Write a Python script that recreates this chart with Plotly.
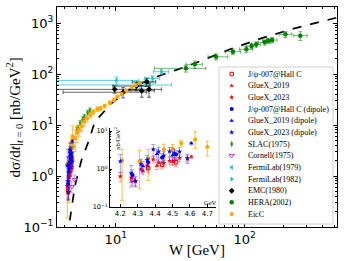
import math
import plotly.graph_objects as go

# ---------------- data ----------------
curve_W = [4.25, 4.32, 4.81, 5.42, 6.21, 6.87, 9.26, 12.5, 16.8, 22.6, 30.4, 40.9, 74.3, 134, 244, 520]
curve_sig = [0.06, 0.1, 0.62, 2.06, 5.08, 11.5, 26.6, 48.6, 70.6, 95.6, 123, 162, 295, 500, 787, 1280]

hallc_W = [4.27, 4.36, 4.44, 4.52]
hallc_sig = [0.52, 1.05, 1.30, 1.50]
hallc_err = [0.15, 0.25, 0.30, 0.35]
hallc_dip_sig = [0.70, 1.50, 2.00, 2.40]
hallc_dip_err = [0.25, 0.45, 0.55, 0.65]

gx19_W = [4.33, 4.41, 4.50, 4.608]
gx19_sig = [0.90, 1.22, 1.55, 2.10]
gx19_err = [0.20, 0.25, 0.30, 0.20]
gx19_dip_sig = [1.20, 2.50, 2.30, 4.75]
gx19_dip_err = [0.40, 0.80, 0.60, 0.45]

gx23_W = [4.20, 4.262, 4.287, 4.319, 4.354, 4.389, 4.42, 4.45, 4.483, 4.51, 4.54, 4.585]
gx23_sig = [0.64, 0.59, 0.47, 1.00, 1.22, 1.80, 1.50, 1.45, 1.65, 1.65, 1.95, 1.90]
gx23_err = [0.18, 0.15, 0.12, 0.22, 0.25, 0.35, 0.30, 0.30, 0.35, 0.35, 0.40, 0.35]
gx23_dip_sig = [1.60, 0.785, 0.49, 1.35, 1.73, 3.30, 2.85, 2.24, 2.90, 2.64, 2.85, 1.90]
gx23_dip_err = [0.80, 0.45, 0.15, 0.45, 0.55, 1.10, 0.90, 0.60, 0.80, 0.70, 0.80, 0.50]

eic_W = [4.21, 4.31, 4.36, 4.45, 4.50, 4.55, 4.63, 4.70, 4.85, 5.0, 5.2, 5.45, 5.7, 6.0,
         6.35, 6.7, 7.2, 7.6, 8.2, 9.0, 9.7, 10.3, 11.1, 12.1, 13.3, 14.3, 15.4]
eic_sig = [1.7, 1.6, 1.9, 3.3, 3.4, 4.8, 6.0, 3.8, 5.5, 7.0, 8.0, 9.5, 11.5, 13.5,
           15.7, 18.0, 20.5, 21.0, 23.6, 27.4, 31.0, 36.0, 40.5, 47.0, 55.0, 61.0, 67.6]
eic_errp = [1.6, 1.5, 1.4, 1.2, 1.0, 0.8, 3.5, 1.6, 2.5, 2.5, 2.0, 2.0, 2.0, 2.0,
            2.0, 2.0, 2.0, 2.0, 2.0, 2.0, 2.5, 2.5, 2.5, 3.0, 3.0, 3.0, 3.0]
eic_errm = [1.55, 1.3, 1.4, 1.4, 1.3, 0.8, 2.5, 1.6, 2.5, 2.5, 2.0, 2.0, 2.0, 2.0,
            2.0, 2.0, 2.0, 2.0, 2.0, 2.0, 2.5, 2.5, 2.5, 3.0, 3.0, 3.0, 3.0]

slac_W = [5.0, 5.1, 5.3, 5.55, 5.7, 6.05, 6.3]
slac_sig = [8.0, 8.8, 11.0, 13.0, 14.5, 17.5, 19.5]
slac_err = [0.9, 1.0, 1.2, 1.4, 1.5, 1.8, 2.0]

cornell_W = [4.55, 4.80]
cornell_sig = [0.62, 0.85]
cornell_err = [0.15, 0.20]

fl79_W = [10.1, 15.4]
fl79_sig = [75.0, 61.0]
fl79_err = [12.0, 10.0]
fl79_xm = [7.0, 12.0]
fl79_xp = [5.0, 11.6]

fl82_W = [17.0, 19.3, 22.6]
fl82_sig = [68.0, 82.0, 111.0]
fl82_err = [10.0, 10.0, 12.0]
fl82_xm = [2.5, 2.5, 3.0]
fl82_xp = [2.5, 2.5, 3.0]

emc_W = [9.8, 11.4, 14.5, 15.9, 17.4, 18.1]
emc_sig = [50.0, 44.0, 58.0, 47.0, 70.0, 50.0]
emc_err = [8.0, 10.0, 10.0, 12.0, 13.0, 15.0]
emc_xm = [6.5, 7.5, 5.0, 4.0, 4.0, 5.0]
emc_xp = [4.5, 6.0, 4.0, 4.0, 3.0, 4.5]

hera_W = [35, 41, 60, 81, 103, 113, 123, 143, 152, 163, 207, 270]
hera_sig = [129, 155, 218, 274, 305, 354, 382, 418, 450, 464, 600, 565]
hera_err = [20, 25, 30, 35, 40, 40, 45, 50, 50, 55, 80, 110]
hera_xm = [15, 6, 8, 10, 12, 10, 10, 15, 15, 15, 20, 30]
hera_xp = [15, 6, 14, 12, 12, 10, 10, 15, 15, 15, 25, 35]

legend_names = ["J/ψ-007@Hall C", "GlueX_2019", "GlueX_2023",
                "J/ψ-007@Hall C (dipole)", "GlueX_2019 (dipole)", "GlueX_2023 (dipole)",
                "SLAC(1975)", "Cornell(1975)", "FermiLab(1979)", "FermiLab(1982)",
                "EMC(1980)", "HERA(2002)", "EicC"]

main_x_ticks = [10, 100]
main_y_ticks = [0.1, 1, 10, 100, 1000]
inset_x_ticks = [4.2, 4.3, 4.4, 4.5, 4.6, 4.7]
inset_y_ticks = [0.1, 1, 10]


def pow_label(v):
    e = int(round(math.log10(v)))
    return "10<sup>%s</sup>" % (("−%d" % -e) if e < 0 else "%d" % e)


def log_minor(e0, e1):
    return [m * 10.0 ** e for e in range(e0, e1 + 1) for m in range(2, 10)]


# ---------------- styles ----------------
RED, BLUE = "#ff0000", "#0000ff"
STY = {
    "J/ψ-007@Hall C": dict(c=RED, s="square-open", e="rgba(255,0,0,0.35)", z=3.5),
    "GlueX_2019": dict(c=RED, s="triangle-up", e="rgba(255,0,0,0.35)", z=4),
    "GlueX_2023": dict(c=RED, s="star", e="rgba(255,0,0,0.35)", z=4),
    "J/ψ-007@Hall C (dipole)": dict(c=BLUE, s="circle", e="rgba(0,0,255,0.35)", z=4),
    "GlueX_2019 (dipole)": dict(c=BLUE, s="triangle-up", e="rgba(0,0,255,0.35)", z=4),
    "GlueX_2023 (dipole)": dict(c=BLUE, s="star", e="rgba(0,0,255,0.35)", z=4),
    "SLAC(1975)": dict(c="#2e9b2e", s="diamond-tall", e="rgba(46,155,46,0.55)", z=4.5),
    "Cornell(1975)": dict(c="#c040c0", s="triangle-down-open", e="rgba(192,64,192,0.5)", z=4.5),
    "FermiLab(1979)": dict(c="#17becf", s="triangle-left", e="rgba(23,190,207,0.7)", z=4.5),
    "FermiLab(1982)": dict(c="#17becf", s="triangle-right", e="rgba(23,190,207,0.7)", z=4.5),
    "EMC(1980)": dict(c="#000000", s="diamond", e="rgba(0,0,0,0.6)", z=4.5),
    "HERA(2002)": dict(c="#008000", s="circle", e="rgba(0,128,0,0.55)", z=4.5),
    "EicC": dict(c="#ffa500", s="hexagon", e="rgba(255,165,0,0.7)", z=4.5),
}

fig = go.Figure()


def add(name, W, sig, ep, em=None, xm=None, xp=None, xa="x", ya="y"):
    st = STY[name]
    ey = dict(type="data", symmetric=False, array=ep,
              arrayminus=em if em is not None else ep,
              color=st["e"], thickness=1, width=2)
    kw = {}
    if xm is not None:
        kw["error_x"] = dict(type="data", symmetric=False, array=xp, arrayminus=xm,
                             color=st["e"], thickness=1, width=2)
    fig.add_trace(go.Scatter(
        x=W, y=sig, mode="markers", name=name, xaxis=xa, yaxis=ya,
        marker=dict(color=st["c"], symbol=st["s"], size=st["z"],
                    line=dict(width=1 if "open" in st["s"] else 0, color=st["c"])),
        error_y=ey, showlegend=False, hoverinfo="skip", **kw))


# main plot
fig.add_trace(go.Scatter(x=curve_W, y=curve_sig, mode="lines", xaxis="x", yaxis="y",
                         line=dict(color="black", width=1.7, dash="dash"),
                         showlegend=False, hoverinfo="skip"))
add("FermiLab(1979)", fl79_W, fl79_sig, fl79_err, xm=fl79_xm, xp=fl79_xp)
add("FermiLab(1982)", fl82_W, fl82_sig, fl82_err, xm=fl82_xm, xp=fl82_xp)
add("EMC(1980)", emc_W, emc_sig, emc_err, xm=emc_xm, xp=emc_xp)
add("HERA(2002)", hera_W, hera_sig, hera_err, xm=hera_xm, xp=hera_xp)
add("SLAC(1975)", slac_W, slac_sig, slac_err)
add("EicC", eic_W, eic_sig, eic_errp, eic_errm)
add("Cornell(1975)", cornell_W, cornell_sig, cornell_err)
for xa, ya in (("x", "y"), ("x2", "y2")):
    if xa == "x2":
        add("EicC", eic_W, eic_sig, eic_errp, eic_errm, xa=xa, ya=ya)
    add("J/ψ-007@Hall C", hallc_W, hallc_sig, hallc_err, xa=xa, ya=ya)
    add("GlueX_2019", gx19_W, gx19_sig, gx19_err, xa=xa, ya=ya)
    add("GlueX_2023", gx23_W, gx23_sig, gx23_err, xa=xa, ya=ya)
    add("J/ψ-007@Hall C (dipole)", hallc_W, hallc_dip_sig, hallc_dip_err, xa=xa, ya=ya)
    add("GlueX_2019 (dipole)", gx19_W, gx19_dip_sig, gx19_dip_err, xa=xa, ya=ya)
    add("GlueX_2023 (dipole)", gx23_W, gx23_dip_sig, gx23_dip_err, xa=xa, ya=ya)

# ---------------- manual legend (own invisible axes, pixel-like coords) ----------------
row0, rowh = 67.0, 11.67
leg_y = [row0 + rowh * i for i in range(len(legend_names))]
for name, yy in zip(legend_names, leg_y):
    st = STY[name]
    fig.add_trace(go.Scatter(
        x=[174.7], y=[yy], xaxis="x3", yaxis="y3", mode="markers",
        marker=dict(color=st["c"], symbol=st["s"], size=st["z"],
                    line=dict(width=1 if "open" in st["s"] else 0, color=st["c"])),
        showlegend=False, hoverinfo="skip"))

annotations = []
for name, yy in zip(legend_names, leg_y):
    annotations.append(dict(x=189, y=yy, xref="x3", yref="y3", text=name, showarrow=False,
                            xanchor="left", yanchor="middle",
                            font=dict(family="Liberation Serif", size=8, color="black")))

shapes = [dict(type="rect", xref="x3", yref="y3", x0=162, x1=276, y0=60, y1=217,
               line=dict(color="#d0d0d0", width=1), fillcolor="rgba(255,255,255,0.85)",
               layer="below")]

# axis titles
annotations.append(dict(x=0.5, y=-0.105, xref="paper", yref="paper", showarrow=False,
                        text="W [GeV]", xanchor="center", yanchor="middle",
                        font=dict(family="Liberation Serif", size=15)))
annotations.append(dict(x=-0.152, y=0.5, xref="paper", yref="paper", showarrow=False,
                        textangle=-90, xanchor="center", yanchor="middle",
                        text="dσ/d<i>t</i>|<sub><i>t</i> = 0</sub> [nb/GeV<sup>2</sup>]",
                        font=dict(family="Liberation Serif", size=15)))
# inset labels
annotations.append(dict(x=0.214, y=0.405, xref="paper", yref="paper", showarrow=False,
                        textangle=-90, xanchor="center", yanchor="middle",
                        text="nb/GeV<sup>2</sup>",
                        font=dict(family="Liberation Serif", size=6.5)))
annotations.append(dict(x=0.548, y=0.113, xref="paper", yref="paper", showarrow=False,
                        text="GeV", xanchor="center", yanchor="middle",
                        font=dict(family="Liberation Serif", size=6.5)))

axis_common = dict(showline=True, linecolor="black", linewidth=1, showgrid=False,
                   zeroline=False, ticks="inside", tickcolor="black", tickwidth=1)

fig.update_layout(
    width=348, height=261,
    margin=dict(l=57, r=11, t=7, b=34, pad=0),
    paper_bgcolor="white", plot_bgcolor="rgba(0,0,0,0)",
    showlegend=False,
    font=dict(family="DejaVu Sans", size=13, color="black"),
    xaxis=dict(type="log", range=[math.log10(3.5), math.log10(520)], mirror="allticks",
               ticklen=4, tickvals=main_x_ticks, ticktext=[pow_label(v) for v in main_x_ticks],
               tickfont=dict(size=13), domain=[0, 1], anchor="y",
               minor=dict(tickmode="array", tickvals=log_minor(0, 2), ticks="inside",
                          ticklen=2, tickcolor="black", showgrid=False),
               **axis_common),
    yaxis=dict(type="log", range=[-1, 3.314], mirror="allticks",
               ticklen=4, tickvals=main_y_ticks, ticktext=[pow_label(v) for v in main_y_ticks],
               tickfont=dict(size=13), domain=[0, 1], anchor="x",
               minor=dict(tickmode="array", tickvals=log_minor(-1, 3), ticks="inside",
                          ticklen=2, tickcolor="black", showgrid=False),
               **axis_common),
    xaxis2=dict(range=[4.14, 4.75], domain=[0.189, 0.568], anchor="y2",
                tickvals=inset_x_ticks, ticktext=["%.1f" % v for v in inset_x_ticks],
                ticklen=2.5, tickfont=dict(size=7), **axis_common),
    yaxis2=dict(type="log", range=[-1, 1.08], domain=[0.091, 0.45], anchor="x2",
                tickvals=inset_y_ticks, ticktext=[pow_label(v) for v in inset_y_ticks],
                ticklen=2.5, tickfont=dict(size=6.5),
                minor=dict(tickmode="array", tickvals=log_minor(-1, 0), ticks="inside",
                           ticklen=1.5, tickcolor="black", showgrid=False),
                **axis_common),
    xaxis3=dict(range=[0, 280], domain=[0, 1], anchor="y3", visible=False, fixedrange=True),
    yaxis3=dict(range=[220, 0], domain=[0, 1], anchor="x3", visible=False, fixedrange=True),
    annotations=annotations,
    shapes=shapes,
)

fig.write_html("out.html", config={"displayModeBar": False, "staticPlot": True},
               post_script="document.body.style.margin='0px';")
